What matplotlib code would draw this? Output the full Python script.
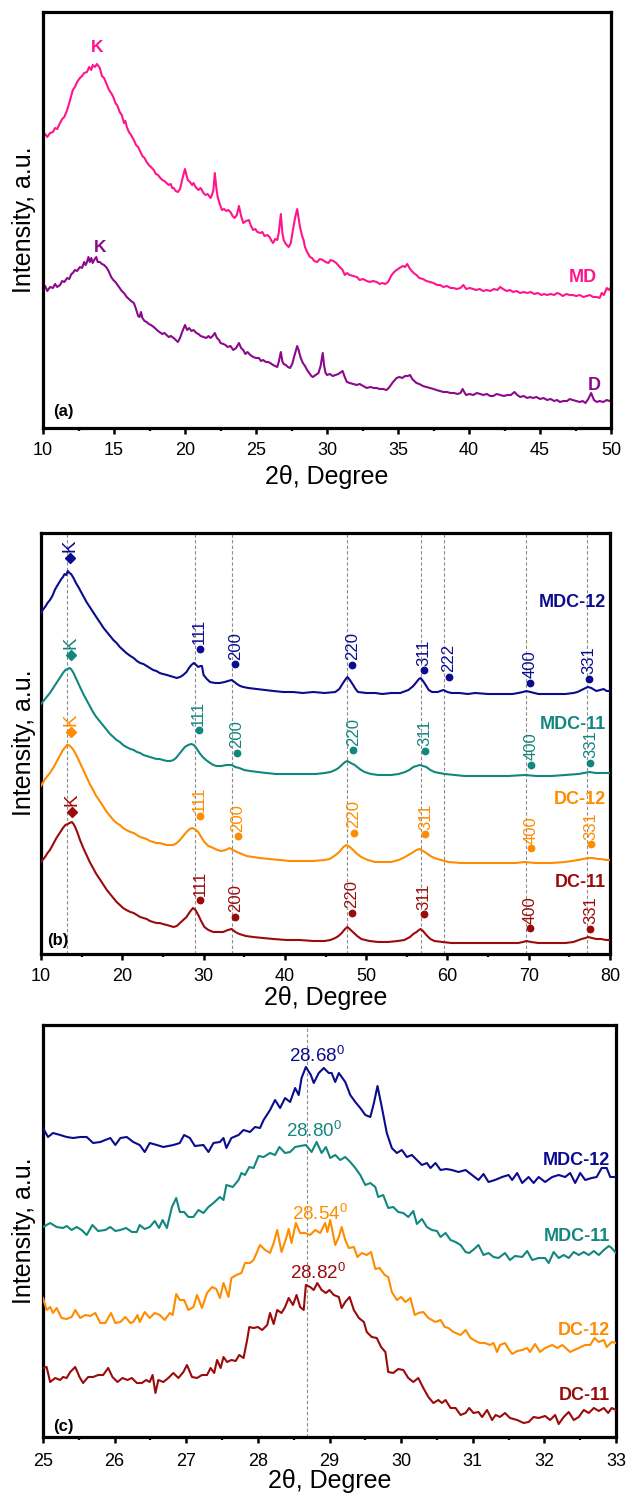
import matplotlib
matplotlib.use('Agg')
import matplotlib.pyplot as plt
from matplotlib.ticker import MultipleLocator

plt.rcParams['font.family'] = ['Liberation Sans', 'DejaVu Sans']
plt.rcParams['mathtext.fontset'] = 'custom'
plt.rcParams['mathtext.rm'] = 'Liberation Sans'
plt.rcParams['mathtext.it'] = 'Liberation Sans:italic'
plt.rcParams['mathtext.bf'] = 'Liberation Sans:bold'

# ---------------- colours ----------------
C_MD = '#FF148C'
C_D = '#8B0A8B'
C_MDC12 = '#0B0B8F'
C_MDC11 = '#12877F'
C_DC12 = '#FF8C00'
C_DC11 = '#9B0B0B'

# ---------------- panel (a) data: (2theta, intensity) ----------------
md_pts = [(10.0,290),(10.15,294),(10.3,291),(10.5,295),(10.7,296),(10.85,300),(11.0,299),(11.2,305),(11.35,309),(11.5,311),(11.7,318),(11.85,325),(12.0,333),(12.1,338),(12.25,341),(12.4,346),(12.6,350),(12.75,352),(12.9,355),(13.1,356),(13.25,361),(13.4,358),(13.5,363),(13.65,361),(13.8,364),(14.0,360),(14.15,352),(14.3,350),(14.5,343),(14.65,338),(14.8,335),(14.95,331),(15.1,325),(15.25,322),(15.4,316),(15.55,313),(15.7,305),(15.8,307),(15.9,301),(16.05,296),(16.2,293),(16.4,288),(16.55,283),(16.7,281),(16.8,278),(17.0,272),(17.15,270),(17.3,266),(17.45,263),(17.6,261),(17.8,258),(17.95,254),(18.1,253),(18.2,251),(18.4,248),(18.55,247),(18.7,245),(18.85,243),(19.0,244),(19.1,240),(19.2,240),(19.35,237),(19.5,236),(19.65,239),(19.8,248),(19.9,254),(20.0,259),(20.1,253),(20.2,248),(20.35,246),(20.5,243),(20.6,245),(20.7,242),(20.8,240),(20.95,238),(21.1,240),(21.3,235),(21.45,233),(21.6,234),(21.8,230),(21.9,233),(22.0,238),(22.1,255),(22.2,241),(22.3,231),(22.45,224),(22.6,218),(22.75,219),(22.9,217),(23.05,218),(23.2,216),(23.35,212),(23.5,210),(23.65,213),(23.8,222),(23.95,212),(24.1,205),(24.3,207),(24.5,208),(24.65,202),(24.8,198),(24.95,199),(25.1,196),(25.3,195),(25.45,196),(25.6,192),(25.8,193),(25.95,191),(26.1,187),(26.2,185),(26.35,189),(26.5,188),(26.6,195),(26.75,214),(26.85,196),(26.95,188),(27.1,184),(27.3,181),(27.45,185),(27.6,198),(27.75,210),(27.9,219),(28.0,210),(28.1,201),(28.25,192),(28.35,188),(28.45,181),(28.6,176),(28.8,171),(28.95,170),(29.1,167),(29.3,166),(29.5,169),(29.7,168),(29.9,166),(30.1,165),(30.25,168),(30.45,167),(30.65,165),(30.9,161),(31.1,158),(31.25,153),(31.4,155),(31.6,153),(31.85,152),(32.1,151),(32.3,148),(32.55,149),(32.8,147),(33.0,146),(33.25,147),(33.5,146),(33.7,144),(33.9,145),(34.1,144),(34.3,146),(34.55,153),(34.8,157),(35.1,160),(35.35,162),(35.5,161),(35.65,164),(35.85,159),(36.1,155),(36.3,153),(36.5,150),(36.75,149),(37.0,147),(37.25,146),(37.5,145),(37.75,143),(37.96,143),(38.2,141),(38.45,142),(38.7,140),(38.9,140),(39.15,139),(39.4,140),(39.6,143),(39.8,139),(40.05,140),(40.3,139),(40.5,138),(40.75,139),(41.0,137),(41.25,138),(41.5,137),(41.75,139),(42.0,138),(42.2,141),(42.4,139),(42.65,137),(42.9,138),(43.1,136),(43.35,137),(43.6,135),(43.85,136),(44.1,135),(44.35,136),(44.6,134),(44.85,135),(45.1,133),(45.3,134),(45.5,133),(45.75,134),(46.0,133),(46.2,135),(46.4,134),(46.6,132),(46.85,134),(47.1,133),(47.3,133),(47.55,132),(47.8,133),(48.05,131),(48.3,132),(48.5,133),(48.75,131),(49.0,131),(49.2,130),(49.35,135),(49.5,133),(49.7,140),(49.85,138),(50.0,141)]

d_pts = [(10.0,138),(10.15,142),(10.3,137),(10.5,141),(10.7,140),(10.85,144),(11.0,141),(11.2,143),(11.35,147),(11.5,146),(11.7,150),(11.85,149),(12.0,154),(12.1,155),(12.25,158),(12.4,157),(12.6,161),(12.75,160),(12.9,166),(13.0,163),(13.1,166),(13.2,171),(13.3,166),(13.4,170),(13.5,165),(13.6,168),(13.75,171),(13.85,166),(14.0,166),(14.15,164),(14.3,163),(14.5,160),(14.65,156),(14.8,151),(14.95,148),(15.1,146),(15.25,143),(15.4,140),(15.55,137),(15.7,135),(15.9,131),(16.05,129),(16.2,127),(16.4,125),(16.55,119),(16.7,112),(16.8,111),(16.9,116),(17.0,110),(17.15,107),(17.3,106),(17.45,104),(17.6,103),(17.8,101),(17.95,99),(18.1,97),(18.2,96),(18.4,94),(18.55,95),(18.7,93),(18.85,91),(19.0,92),(19.2,90),(19.35,88),(19.5,86),(19.65,90),(19.8,96),(20.0,103),(20.15,98),(20.3,100),(20.45,97),(20.6,98),(20.8,95),(20.95,94),(21.1,92),(21.3,91),(21.5,90),(21.65,92),(21.8,90),(21.95,92),(22.1,95),(22.25,90),(22.4,88),(22.5,85),(22.7,84),(22.85,83),(23.0,81),(23.2,82),(23.4,78),(23.6,80),(23.8,85),(23.95,80),(24.1,78),(24.25,74),(24.4,76),(24.6,73),(24.8,71),(25.0,70),(25.2,70),(25.35,67),(25.5,68),(25.7,66),(25.85,66),(26.0,65),(26.2,63),(26.35,62),(26.5,61),(26.6,66),(26.75,76),(26.85,67),(26.95,64),(27.1,63),(27.25,61),(27.4,60),(27.55,64),(27.7,72),(27.9,82),(28.0,78),(28.15,70),(28.3,65),(28.45,62),(28.6,58),(28.75,55),(28.9,52),(29.0,51),(29.2,53),(29.4,55),(29.55,62),(29.7,75),(29.8,62),(29.9,55),(30.0,53),(30.2,54),(30.4,52),(30.6,53),(30.8,54),(31.0,56),(31.1,57),(31.25,51),(31.4,46),(31.6,45),(31.85,44),(32.1,43),(32.3,44),(32.55,42),(32.8,40),(33.05,41),(33.3,40),(33.5,40),(33.7,39),(33.95,39),(34.2,38),(34.4,41),(34.65,46),(34.9,50),(35.1,51),(35.3,50),(35.5,52),(35.7,52),(35.85,53),(36.0,49),(36.3,45),(36.5,44),(36.75,42),(37.0,41),(37.25,40),(37.5,39),(37.7,38),(37.95,37),(38.2,36),(38.45,36),(38.7,35),(38.95,35),(39.2,34),(39.4,35),(39.55,39),(39.7,35),(39.8,33),(40.05,34),(40.3,33),(40.55,35),(40.8,34),(41.0,33),(41.25,34),(41.5,32),(41.7,32),(41.95,34),(42.2,33),(42.45,32),(42.7,33),(42.95,33),(43.2,36),(43.4,33),(43.6,31),(43.85,32),(44.1,30),(44.3,31),(44.5,30),(44.75,31),(45.0,29),(45.25,30),(45.5,28),(45.75,29),(46.0,27),(46.2,28),(46.4,26),(46.65,27),(46.9,27),(47.1,29),(47.3,28),(47.55,27),(47.8,26),(48.0,27),(48.2,25),(48.4,29),(48.6,35),(48.8,28),(49.0,26),(49.2,27),(49.45,26),(49.7,28),(49.85,27),(50.0,28)]

# ---------------- panel (b) data ----------------
mdc12_b = [(10.0,340),(10.2,344),(10.5,347),(10.8,351),(11.1,354),(11.4,358),(11.7,364),(11.9,367),(12.2,371),(12.5,375),(12.7,377),(12.9,380),(13.1,379),(13.3,383),(13.5,381),(13.7,380),(14.0,376),(14.3,371),(14.6,367),(14.8,364),(15.2,358),(15.6,352),(16.0,347),(16.4,342),(16.8,337),(17.3,331),(17.7,326),(18.1,322),(18.5,318),(18.9,314),(19.3,311),(19.7,307),(20.1,304),(20.5,301),(21.0,298),(21.4,296),(21.8,293),(22.2,291),(22.6,290),(23.0,288),(23.4,286),(23.8,284),(24.2,283),(24.6,281),(25.0,280),(25.5,279),(25.9,278),(26.3,277),(26.7,276),(27.1,277),(27.5,279),(27.9,282),(28.2,286),(28.5,289),(28.8,291),(29.1,289),(29.35,287),(29.6,288),(29.8,288),(30.0,279),(30.4,275),(30.8,272),(31.4,271),(32.0,271),(32.6,272),(33.0,273),(33.45,274),(33.8,272),(34.1,270),(34.5,268),(34.9,267),(35.5,266),(36.5,265),(37.5,264),(38.6,263),(39.8,262),(41.0,262),(42.2,261),(43.5,262),(44.9,261),(46.2,262),(46.7,265),(47.0,269),(47.4,274),(47.7,277),(48.0,274),(48.4,269),(48.7,265),(49.0,262),(50.0,261),(51.1,261),(52.0,260),(53.1,261),(54.2,261),(55.2,264),(55.8,268),(56.2,272),(56.5,275),(56.7,276),(57.0,273),(57.4,268),(57.7,264),(58.1,262),(58.8,262),(59.5,264),(60.0,262),(60.5,261),(61.5,261),(62.5,260),(63.4,261),(65.0,260),(67.1,260),(68.0,260),(68.7,261),(69.3,262),(69.7,263),(70.2,262),(71.2,260),(72.5,260),(73.5,260),(74.5,260),(75.5,261),(76.0,262),(76.5,264),(77.0,266),(77.3,267),(77.7,266),(78.3,263),(78.8,264),(79.2,265),(79.6,263),(80.0,263)]

mdc11_b = [(10.0,250),(10.2,252),(10.5,255),(10.8,258),(11.1,261),(11.5,266),(11.9,271),(12.3,276),(12.7,281),(13.0,284),(13.3,285),(13.5,286),(13.7,285),(14.0,281),(14.4,274),(14.8,267),(15.2,260),(15.6,254),(16.0,248),(16.4,242),(16.8,237),(17.3,232),(17.7,228),(18.1,224),(18.5,220),(18.9,217),(19.3,214),(19.7,212),(20.1,209),(20.5,207),(21.0,205),(21.4,204),(21.8,202),(22.2,201),(22.6,199),(23.0,198),(23.4,197),(23.8,196),(24.2,195),(24.6,195),(25.0,194),(25.5,193),(25.9,193),(26.3,194),(26.6,196),(26.9,199),(27.3,203),(27.7,207),(28.1,209),(28.5,210),(28.8,209),(29.1,206),(29.5,201),(29.9,197),(30.3,194),(30.8,191),(31.2,189),(31.6,188),(32.2,188),(32.8,189),(33.45,189),(33.9,187),(34.4,186),(35.0,184),(35.7,183),(36.7,182),(37.7,181),(38.9,180),(40.2,180),(41.4,180),(42.6,180),(43.8,180),(44.9,181),(45.6,182),(46.2,184),(46.6,186),(47.0,189),(47.4,192),(47.7,193),(48.1,191),(48.6,189),(49.2,185),(49.8,182),(50.6,180),(51.5,179),(52.3,179),(53.1,179),(54.0,180),(54.8,182),(55.3,184),(55.8,187),(56.2,188),(56.6,189),(57.0,188),(57.4,187),(57.9,184),(58.4,182),(59.0,181),(59.7,180),(60.9,179),(62.1,178),(63.8,178),(65.4,178),(67.5,178),(69.5,179),(71.0,178),(72.8,178),(74.5,179),(76.1,180),(76.8,181),(77.5,182),(78.2,181),(78.9,181),(79.5,181),(80.0,181)]

dc12_b = [(10.0,168),(10.2,171),(10.5,175),(10.8,178),(11.1,181),(11.5,186),(11.9,192),(12.3,198),(12.7,204),(13.0,207),(13.2,209),(13.4,209),(13.7,207),(14.0,204),(14.4,198),(14.8,191),(15.2,184),(15.6,177),(16.0,170),(16.4,164),(16.8,158),(17.3,152),(17.7,147),(18.1,142),(18.5,138),(18.9,134),(19.3,131),(19.7,129),(20.1,126),(20.5,124),(21.0,122),(21.4,121),(21.8,119),(22.2,117),(22.6,116),(23.0,115),(23.4,113),(23.8,112),(24.2,111),(24.6,111),(25.0,110),(25.5,109),(25.9,109),(26.3,109),(26.7,111),(27.1,114),(27.5,118),(27.9,122),(28.3,125),(28.6,126),(28.9,125),(29.35,122),(29.7,117),(30.1,112),(30.6,108),(31.2,106),(31.7,104),(32.2,103),(32.7,104),(33.2,106),(33.6,104),(34.1,102),(34.7,100),(35.3,98),(36.1,97),(36.9,96),(38.1,95),(39.4,94),(40.6,93),(41.8,93),(43.4,93),(44.9,94),(45.5,95),(45.9,97),(46.4,100),(46.8,103),(47.2,107),(47.6,109),(48.0,107),(48.4,104),(48.9,100),(49.4,97),(50.2,94),(51.1,92),(52.1,92),(53.1,92),(54.0,94),(54.8,97),(55.4,100),(55.8,102),(56.2,104),(56.6,105),(57.0,103),(57.4,101),(57.9,98),(58.4,96),(59.2,94),(60.1,92),(61.7,91),(63.4,91),(65.2,91),(67.1,91),(68.4,91),(69.5,92),(70.8,91),(72.8,91),(74.5,92),(76.1,94),(76.7,95),(77.3,96),(77.9,96),(78.5,95),(78.9,95),(79.5,94),(80.0,94)]

dc11_b = [(10.0,92),(10.2,94),(10.5,97),(10.8,101),(11.1,104),(11.5,110),(11.9,116),(12.3,121),(12.7,126),(13.0,129),(13.3,130),(13.5,131),(13.8,132),(14.0,130),(14.2,127),(14.5,121),(14.8,114),(15.2,106),(15.6,99),(16.0,92),(16.4,86),(16.8,80),(17.3,74),(17.7,69),(18.1,64),(18.5,60),(18.9,56),(19.3,52),(19.7,49),(20.1,46),(20.5,44),(21.0,42),(21.4,41),(21.8,39),(22.2,37),(22.6,36),(23.0,35),(23.4,33),(23.8,32),(24.2,31),(24.6,31),(25.0,30),(25.5,29),(25.9,28),(26.3,27),(26.7,28),(27.1,31),(27.5,34),(27.9,37),(28.3,42),(28.7,46),(29.0,44),(29.35,39),(29.7,33),(30.1,27),(30.6,24),(31.2,22),(31.8,22),(32.4,22),(33.0,24),(33.45,25),(33.9,22),(34.4,20),(35.2,18),(36.1,17),(37.3,16),(38.6,15),(40.2,14),(41.8,14),(43.5,13),(44.9,13),(45.6,14),(46.2,16),(46.6,18),(47.0,21),(47.4,25),(47.7,27),(48.1,24),(48.5,21),(48.9,18),(49.4,15),(50.4,13),(51.5,12),(52.7,12),(53.9,13),(54.7,14),(55.4,17),(55.8,20),(56.2,22),(56.5,24),(56.7,25),(57.0,23),(57.4,19),(57.9,15),(58.4,13),(59.4,12),(60.5,11),(62.5,11),(64.6,11),(66.6,11),(68.7,11),(69.3,12),(69.7,13),(70.3,12),(71.2,11),(72.8,11),(74.5,11),(75.5,12),(76.5,15),(77.0,16),(77.3,17),(77.8,16),(78.3,15),(78.9,15),(79.5,14),(80.0,14)]

# reference lines in (b)
b_vlines = [13.2, 28.9, 33.5, 47.7, 56.7, 59.6, 69.7, 77.2]

# peak labels in (b): (label, 2theta, height)
mdc12_peaks = [('K',13.6,396),('111',29.5,305),('200',33.9,290),('220',48.3,289),('311',57.1,284),('222',60.2,277),('400',70.2,271),('331',77.4,275)]
mdc11_peaks = [('K',13.7,299),('111',29.4,224),('200',34.1,201),('220',48.4,204),('311',57.2,203),('400',70.3,189),('331',77.6,191)]
dc12_peaks = [('K',13.7,222),('111',29.5,138),('200',34.2,118),('220',48.5,121),('311',57.3,120),('400',70.3,106),('331',77.7,110)]
dc11_peaks = [('K',13.8,142),('111',29.6,54),('200',33.9,37),('220',48.2,41),('311',57.1,40),('400',70.2,26),('331',77.6,25)]

# ---------------- panel (c) data ----------------
mdc12_c = [(25.0,309),(25.07,300),(25.14,304),(25.24,302),(25.33,300),(25.42,299),(25.52,300),(25.61,300),(25.70,294),(25.80,295),(25.94,299),(26.01,292),(26.08,299),(26.17,300),(26.26,295),(26.35,292),(26.42,285),(26.49,294),(26.59,292),(26.68,290),(26.82,292),(26.91,294),(26.97,302),(27.05,299),(27.12,291),(27.24,292),(27.31,285),(27.38,294),(27.47,295),(27.52,299),(27.56,289),(27.63,299),(27.73,302),(27.80,307),(27.89,305),(27.96,310),(28.03,309),(28.08,317),(28.17,327),(28.24,337),(28.31,329),(28.38,339),(28.45,335),(28.52,349),(28.57,342),(28.61,359),(28.67,370),(28.74,362),(28.78,354),(28.85,364),(28.92,369),(28.99,364),(29.03,364),(29.08,355),(29.13,364),(29.22,355),(29.29,342),(29.36,335),(29.43,329),(29.50,322),(29.57,320),(29.62,334),(29.67,351),(29.73,330),(29.80,304),(29.87,289),(29.94,284),(30.01,287),(30.08,280),(30.15,282),(30.22,277),(30.29,272),(30.36,274),(30.41,269),(30.48,274),(30.55,267),(30.63,268),(30.71,267),(30.80,265),(30.90,267),(30.99,262),(31.08,257),(31.15,263),(31.22,255),(31.31,257),(31.41,260),(31.50,262),(31.55,257),(31.62,264),(31.69,254),(31.78,260),(31.85,254),(31.92,260),(32.01,255),(32.11,260),(32.20,262),(32.29,260),(32.36,264),(32.43,254),(32.50,264),(32.57,257),(32.66,259),(32.73,260),(32.80,269),(32.87,269),(32.92,260),(33.0,260)]

mdc11_c = [(25.0,210),(25.10,214),(25.19,210),(25.28,209),(25.33,211),(25.40,207),(25.47,210),(25.54,207),(25.61,202),(25.69,212),(25.77,206),(25.87,207),(25.94,210),(26.01,206),(26.08,207),(26.16,209),(26.24,205),(26.31,205),(26.35,212),(26.42,208),(26.49,210),(26.56,216),(26.62,209),(26.67,217),(26.73,209),(26.80,230),(26.86,239),(26.91,225),(26.97,225),(27.03,220),(27.10,220),(27.17,227),(27.24,224),(27.31,230),(27.38,234),(27.47,240),(27.52,237),(27.56,252),(27.65,250),(27.73,257),(27.77,264),(27.82,262),(27.88,270),(27.94,269),(28.01,281),(28.08,280),(28.17,284),(28.24,282),(28.30,290),(28.38,284),(28.45,285),(28.52,290),(28.59,291),(28.67,292),(28.75,285),(28.82,295),(28.89,284),(28.95,290),(29.01,279),(29.08,282),(29.15,277),(29.22,280),(29.29,275),(29.36,269),(29.43,262),(29.50,252),(29.57,254),(29.64,250),(29.68,240),(29.75,242),(29.82,229),(29.89,230),(29.96,225),(30.03,224),(30.10,220),(30.17,226),(30.22,213),(30.29,218),(30.36,210),(30.43,207),(30.50,206),(30.55,200),(30.62,204),(30.69,197),(30.76,195),(30.83,192),(30.90,185),(30.95,184),(31.02,188),(31.08,192),(31.15,182),(31.22,184),(31.29,180),(31.36,179),(31.45,184),(31.52,177),(31.59,181),(31.69,180),(31.76,186),(31.83,177),(31.92,179),(32.01,179),(32.06,174),(32.13,185),(32.20,179),(32.27,182),(32.34,179),(32.41,185),(32.48,182),(32.55,185),(32.62,182),(32.69,186),(32.76,182),(32.83,187),(32.90,191),(32.94,189),(33.0,184)]

dc12_c = [(25.0,139),(25.05,127),(25.10,130),(25.14,124),(25.19,129),(25.26,119),(25.33,118),(25.40,120),(25.45,127),(25.52,119),(25.59,122),(25.66,121),(25.73,124),(25.80,114),(25.87,114),(25.95,124),(26.01,114),(26.08,115),(26.15,120),(26.22,114),(26.26,115),(26.32,122),(26.35,115),(26.42,125),(26.49,119),(26.56,124),(26.63,122),(26.70,117),(26.77,124),(26.81,122),(26.86,143),(26.91,137),(26.97,137),(27.03,127),(27.10,130),(27.15,142),(27.22,129),(27.29,144),(27.36,150),(27.42,148),(27.47,139),(27.52,154),(27.59,140),(27.63,159),(27.70,162),(27.77,164),(27.82,174),(27.89,174),(27.94,177),(28.03,192),(28.10,187),(28.17,184),(28.22,194),(28.27,207),(28.33,185),(28.40,200),(28.43,208),(28.47,194),(28.53,214),(28.59,204),(28.66,204),(28.73,202),(28.80,207),(28.87,204),(28.94,214),(28.97,205),(29.01,217),(29.08,192),(29.13,200),(29.17,210),(29.22,197),(29.27,189),(29.34,190),(29.39,180),(29.45,184),(29.52,182),(29.58,185),(29.64,168),(29.70,169),(29.77,162),(29.82,160),(29.87,145),(29.94,137),(30.00,140),(30.06,135),(30.13,139),(30.19,122),(30.24,124),(30.31,125),(30.38,119),(30.48,115),(30.55,117),(30.61,110),(30.66,109),(30.73,105),(30.83,102),(30.90,107),(30.97,99),(31.04,96),(31.10,94),(31.17,94),(31.24,92),(31.29,94),(31.34,85),(31.38,92),(31.45,94),(31.50,88),(31.55,83),(31.62,86),(31.69,87),(31.76,89),(31.80,85),(31.87,93),(31.94,85),(32.01,89),(32.11,92),(32.18,89),(32.25,92),(32.36,85),(32.48,89),(32.57,92),(32.64,92),(32.70,99),(32.76,95),(32.83,97),(32.87,90),(32.94,95),(33.0,94)]

dc11_c = [(25.0,69),(25.05,70),(25.10,55),(25.17,59),(25.24,57),(25.28,60),(25.33,59),(25.38,65),(25.45,70),(25.51,60),(25.56,54),(25.63,60),(25.70,60),(25.77,62),(25.84,62),(25.91,69),(25.97,60),(26.04,55),(26.11,59),(26.18,57),(26.24,59),(26.31,54),(26.38,54),(26.44,57),(26.49,55),(26.53,62),(26.57,44),(26.61,57),(26.68,55),(26.75,59),(26.82,64),(26.89,59),(26.96,65),(27.01,72),(27.08,60),(27.15,59),(27.22,62),(27.29,62),(27.34,69),(27.39,64),(27.43,77),(27.48,69),(27.52,80),(27.57,75),(27.63,77),(27.69,76),(27.74,82),(27.80,79),(27.85,97),(27.88,110),(27.94,109),(28.00,110),(28.06,107),(28.13,112),(28.17,124),(28.22,113),(28.27,127),(28.33,124),(28.38,130),(28.43,139),(28.49,132),(28.54,142),(28.59,130),(28.64,127),(28.67,152),(28.73,150),(28.78,147),(28.83,154),(28.89,147),(28.95,144),(29.00,147),(29.06,142),(29.13,140),(29.17,129),(29.22,135),(29.28,140),(29.34,127),(29.41,119),(29.48,115),(29.52,105),(29.59,100),(29.66,99),(29.72,90),(29.78,85),(29.82,65),(29.89,64),(29.96,68),(30.03,67),(30.10,59),(30.17,55),(30.24,59),(30.31,49),(30.38,40),(30.45,34),(30.52,37),(30.57,34),(30.62,37),(30.69,29),(30.76,29),(30.83,22),(30.90,24),(30.95,29),(31.01,24),(31.08,25),(31.13,20),(31.20,27),(31.27,17),(31.32,22),(31.38,20),(31.45,24),(31.52,19),(31.62,17),(31.71,14),(31.78,15),(31.85,20),(31.92,19),(32.01,21),(32.08,17),(32.15,22),(32.20,13),(32.27,20),(32.34,25),(32.41,17),(32.48,20),(32.55,27),(32.62,24),(32.69,29),(32.76,26),(32.83,29),(32.89,24),(32.94,29),(33.0,27)]

c_vline = 28.68
# peak-position annotations (text, 2theta of left edge, baseline height)
c_notes = [('28.68', 28.44, 375, C_MDC12), ('28.80', 28.39, 300, C_MDC11),
           ('28.54', 28.48, 217, C_DC12), ('28.82', 28.45, 158, C_DC11)]

# ---------------- figure ----------------
W, H = 632, 1496
fig = plt.figure(figsize=(W / 100, H / 100), dpi=100)
LABEL_FS = 18


def add_axes_px(l, r, t, b):
    return fig.add_axes([l / W, 1 - b / H, (r - l) / W, (b - t) / H])


def style(ax, xmin, xmax, major, minor, ymax, pad=5.5):
    ax.set_xlim(xmin, xmax)
    ax.set_ylim(0, ymax)
    ax.set_yticks([])
    ax.xaxis.set_major_locator(MultipleLocator(major))
    ax.xaxis.set_minor_locator(MultipleLocator(minor))
    ax.tick_params(axis='x', which='major', direction='out', length=4.3,
                   width=1.8, labelsize=13, pad=pad)
    ax.tick_params(axis='x', which='minor', direction='out', length=2.3,
                   width=1.6)
    for s in ax.spines.values():
        s.set_linewidth(2.3)


def unzip(pts):
    return [p[0] for p in pts], [p[1] for p in pts]


def fig_text(xpx, ypx, s, **kw):
    fig.text(xpx / W, 1 - ypx / H, s, **kw)


# ----- (a)
axa = add_axes_px(43, 611, 12, 428)
style(axa, 10, 50, 5, 2.5, 416)
x, y = unzip(md_pts)
axa.plot(x, y, color=C_MD, lw=1.5)
x, y = unzip(d_pts)
axa.plot(x, y, color=C_D, lw=1.5)
axa.text(13.78, 376, 'K', color=C_MD, fontsize=12.5, fontweight='bold', ha='center', va='baseline')
axa.text(14.0, 176, 'K', color=C_D, fontsize=12.5, fontweight='bold', ha='center', va='baseline')
axa.text(48.99, 146, 'MD', color=C_MD, fontsize=13, fontweight='bold', ha='right', va='baseline')
axa.text(48.8, 38, 'D', color=C_D, fontsize=13, fontweight='bold', ha='center', va='baseline')
axa.text(10.73, 12, '(a)', color='black', fontsize=12, fontweight='bold', ha='left', va='baseline')
fig_text(24, 220, 'Intensity, a.u.', rotation=90, ha='center', va='center', fontsize=LABEL_FS)
fig_text(327, 484, '2θ, Degree', ha='center', va='baseline', fontsize=LABEL_FS)

# ----- (b)
axb = add_axes_px(41, 610, 533, 954)
style(axb, 10, 80, 10, 5, 421)
for xv in b_vlines:
    axb.axvline(xv, color='#8c8c8c', lw=0.8, ls=(0, (3, 2)), zorder=1)
b_series = [(mdc12_b, mdc12_peaks, C_MDC12, 'MDC-12', 347),
            (mdc11_b, mdc11_peaks, C_MDC11, 'MDC-11', 225),
            (dc12_b, dc12_peaks, C_DC12, 'DC-12', 150),
            (dc11_b, dc11_peaks, C_DC11, 'DC-11', 67)]
for pts, peaks, col, name, ylab in b_series:
    x, y = unzip(pts)
    axb.plot(x, y, color=col, lw=1.5, zorder=3)
    for lab, px, py in peaks:
        if lab == 'K':
            axb.plot([px], [py], marker='D', ms=5, color=col, mec=col, ls='none', zorder=4)
            axb.text(px, py + 6, lab, color=col, fontsize=13.5, rotation=90,
                     ha='center', va='bottom', zorder=4)
        else:
            axb.plot([px], [py], marker='o', ms=4.6, color=col, mec=col, ls='none', zorder=4)
            axb.text(px, py + 4.5, lab, color=col, fontsize=12, rotation=90,
                     ha='center', va='bottom', zorder=4)
    axb.text(79.55, ylab, name, color=col, fontsize=13, fontweight='bold',
             ha='right', va='baseline')
axb.text(10.7, 9, '(b)', color='black', fontsize=12, fontweight='bold', ha='left', va='baseline')
fig_text(24, 743, 'Intensity, a.u.', rotation=90, ha='center', va='center', fontsize=LABEL_FS)
fig_text(326, 1005, '2θ, Degree', ha='center', va='baseline', fontsize=LABEL_FS)

# ----- (c)
axc = add_axes_px(43, 616, 1025, 1437)
style(axc, 25, 33, 1, 0.5, 412, pad=7)
axc.axvline(c_vline, color='#8c8c8c', lw=0.8, ls=(0, (3, 2)), zorder=1)
c_series = [(mdc12_c, C_MDC12, 'MDC-12', 272),
            (mdc11_c, C_MDC11, 'MDC-11', 196),
            (dc12_c, C_DC12, 'DC-12', 102),
            (dc11_c, C_DC11, 'DC-11', 37)]
for pts, col, name, ylab in c_series:
    x, y = unzip(pts)
    axc.plot(x, y, color=col, lw=1.5, zorder=3)
    axc.text(32.92, ylab, name, color=col, fontsize=13, fontweight='bold',
             ha='right', va='baseline')
for txt, px, py, col in c_notes:
    axc.text(px, py, txt + r'$^{\mathrm{0}}$', color=col, fontsize=13.5,
             ha='left', va='baseline', zorder=5)
axc.text(25.14, 6, '(c)', color='black', fontsize=12, fontweight='bold', ha='left', va='baseline')
fig_text(24, 1231, 'Intensity, a.u.', rotation=90, ha='center', va='center', fontsize=LABEL_FS)
fig_text(330, 1488, '2θ, Degree', ha='center', va='baseline', fontsize=LABEL_FS)

fig.savefig('out.png', dpi=100)
